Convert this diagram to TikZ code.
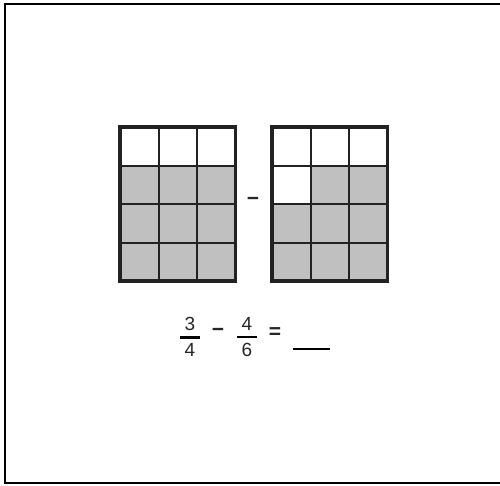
\documentclass[tikz,border=0pt]{standalone}
\usepackage{fontspec}
\setmainfont{Liberation Sans}
\definecolor{cellgray}{HTML}{C0C0C0}
\definecolor{gridline}{HTML}{222222}

\begin{document}
\begin{tikzpicture}[x=1pt, y=-1pt,
  txt/.style={inner sep=0pt, font=\fontsize{19}{20}\selectfont, text=black!85},
  sign/.style={inner sep=0pt, font=\fontsize{21}{22}\selectfont\bfseries, text=black!85}]
  \useasboundingbox (0,0) rectangle (500,485);
  % frame (right side runs off the page)
  \draw[line width=2pt] (501,4) -- (5,4) -- (5,483) -- (501,483);
  % left grid: 9 of 12 shaded
  \foreach \c in {0,1,2} {
    \foreach \r in {1,2,3} {
      \fill[cellgray] (120+\c*38.5,127+\r*38.5) rectangle ++(38.5,38.5);
    }
  }
  % right grid: 8 of 12 shaded
  \foreach \c/\r in {1/1, 2/1, 0/2, 1/2, 2/2, 0/3, 1/3, 2/3} {
    \fill[cellgray] (272+\c*38.5,127+\r*38.5) rectangle ++(38.5,38.5);
  }
  \foreach \gx in {120, 272} {
    \foreach \k in {1,2} {
      \draw[gridline, line width=2pt] (\gx+\k*38.5,127) -- (\gx+\k*38.5,281);
    }
    \foreach \k in {1,2,3} {
      \draw[gridline, line width=2pt] (\gx,127+\k*38.5) -- (\gx+115.5,127+\k*38.5);
    }
    \draw[gridline, line width=3.5pt] (\gx,127) rectangle (\gx+115.5,281);
  }
  \node[sign] (gminus) at (253,201) {−};
  % fraction sentence
  \node[txt] (num1) at (190,324) {3};
  \node[txt] (den1) at (190,350) {4};
  \draw[line width=2.5pt] ([xshift=-4.5pt]num1.south west) ++(0,6.5) coordinate (b1l) -- ++(20,0) coordinate (b1r);
  \node[sign] (fminus) at (218,332) {−};
  \node[txt] (num2) at (247,324) {4};
  \node[txt] (den2) at (247,350) {6};
  \draw[line width=2.5pt] ([xshift=-4.5pt]num2.south west) ++(0,6.5) coordinate (b2l) -- ++(20,0) coordinate (b2r);
  \node[sign] (equal) at (275,333) {=};
  \coordinate (blankl) at (293,349);
  \coordinate (blankr) at (330,349);
  \draw[line width=2.5pt] (blankl) -- (blankr);
\end{tikzpicture}
\end{document}
